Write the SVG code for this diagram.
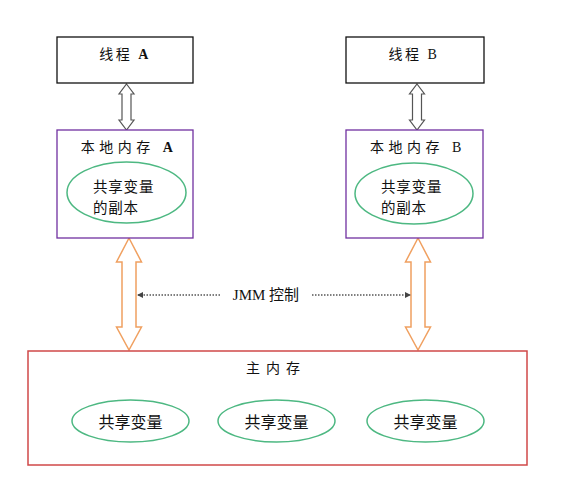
<svg xmlns="http://www.w3.org/2000/svg" width="569" height="504" viewBox="0 0 569 504">
<style>
.txt{font-family:"Liberation Serif","Noto Sans CJK SC",serif;font-size:14px;fill:#111;text-anchor:middle;dominant-baseline:central}
.b{font-weight:bold}
.cjk{font-family:"Noto Sans CJK SC","Liberation Sans",sans-serif;font-size:16px;fill:#111;dominant-baseline:central}
.cjk2{font-family:"Noto Sans CJK SC","Liberation Sans",sans-serif;font-size:14.5px;letter-spacing:0.8px;fill:#111}
.thread{fill:#fff;stroke:#111;stroke-width:1.3}
.local{fill:#fff;stroke:#7030A0;stroke-width:1.3}
.main{fill:#fff;stroke:#D04848;stroke-width:1.5}
.var{fill:#fff;stroke:#4DB882;stroke-width:1.5}
.garrow{fill:#fff;stroke:#555;stroke-width:1.2}
.oarrow{fill:#fff;stroke:#F0A060;stroke-width:1.5}
.dot{stroke:#555;stroke-width:1.5;stroke-dasharray:1.5 1.5;fill:none}
</style>
<defs>
<marker id="ah" viewBox="0 0 6 6" refX="5" refY="3" markerWidth="6" markerHeight="6" markerUnits="userSpaceOnUse" orient="auto-start-reverse">
<path d="M0,0 L6,3 L0,6 Z" fill="#444"/>
</marker>
</defs>
<rect width="569" height="504" fill="#fff"/>

<g id="connectors">
<path class="garrow" d="M126.5,84 L134,94 L131,94 L131,120 L134,120 L126.5,130 L119,120 L122,120 L122,94 L119,94 Z"/>
<path class="garrow" d="M417,84 L424.5,94 L421.5,94 L421.5,120 L424.5,120 L417,130 L409.5,120 L412.5,120 L412.5,94 L409.5,94 Z"/>
<path class="oarrow" d="M129,238 L141.5,262 L136,262 L136,327 L141.5,327 L129,350 L116.5,327 L122,327 L122,262 L116.5,262 Z"/>
<path class="oarrow" d="M418,238 L430.5,262 L425,262 L425,327 L430.5,327 L418,350 L405.5,327 L411,327 L411,262 L405.5,262 Z"/>
<line class="dot" x1="220" y1="295" x2="138" y2="295" marker-end="url(#ah)"/>
<line class="dot" x1="312" y1="295" x2="410" y2="295" marker-end="url(#ah)"/>
<text class="txt" x="266" y="295" style="font-size:15px">JMM 控制</text>
</g>

<g id="threadA">
<rect class="thread" x="57" y="37" width="136" height="46"/>
<text class="txt" x="125" y="54" letter-spacing="2.5">线程 <tspan class="b">A</tspan></text>
</g>
<g id="threadB">
<rect class="thread" x="346" y="37" width="138" height="46"/>
<text class="txt" x="414" y="54" letter-spacing="2.5">线程 B</text>
</g>

<g id="localA">
<rect class="local" x="57" y="130" width="136" height="108"/>
<text class="txt" x="129" y="147" letter-spacing="4.5">本地内存 <tspan class="b">A</tspan></text>
<ellipse class="var" cx="126.5" cy="192.5" rx="59.5" ry="30.5"/>
<text class="cjk2" x="93" y="191.5"><tspan x="93" y="191.5">共享变量</tspan><tspan x="93" y="213">的副本</tspan></text>
</g>
<g id="localB">
<rect class="local" x="346" y="130" width="137" height="108"/>
<text class="txt" x="418" y="147" letter-spacing="4.5">本地内存 B</text>
<ellipse class="var" cx="414" cy="193.5" rx="59" ry="30.5"/>
<text class="cjk2" x="381" y="191.5"><tspan x="381" y="191.5">共享变量</tspan><tspan x="381" y="213">的副本</tspan></text>
</g>

<g id="mainMemory">
<rect class="main" x="28" y="351" width="499" height="114"/>
<text class="txt" x="276" y="368" letter-spacing="6">主内存</text>
</g>
<g id="var1">
<ellipse class="var" cx="130.5" cy="421" rx="58.5" ry="21"/>
<text class="cjk" x="130.5" y="421" text-anchor="middle">共享变量</text>
</g>
<g id="var2">
<ellipse class="var" cx="276.5" cy="421" rx="58.5" ry="21"/>
<text class="cjk" x="276.5" y="421" text-anchor="middle">共享变量</text>
</g>
<g id="var3">
<ellipse class="var" cx="425.5" cy="421" rx="58.5" ry="21"/>
<text class="cjk" x="425.5" y="421" text-anchor="middle">共享变量</text>
</g>
</svg>
